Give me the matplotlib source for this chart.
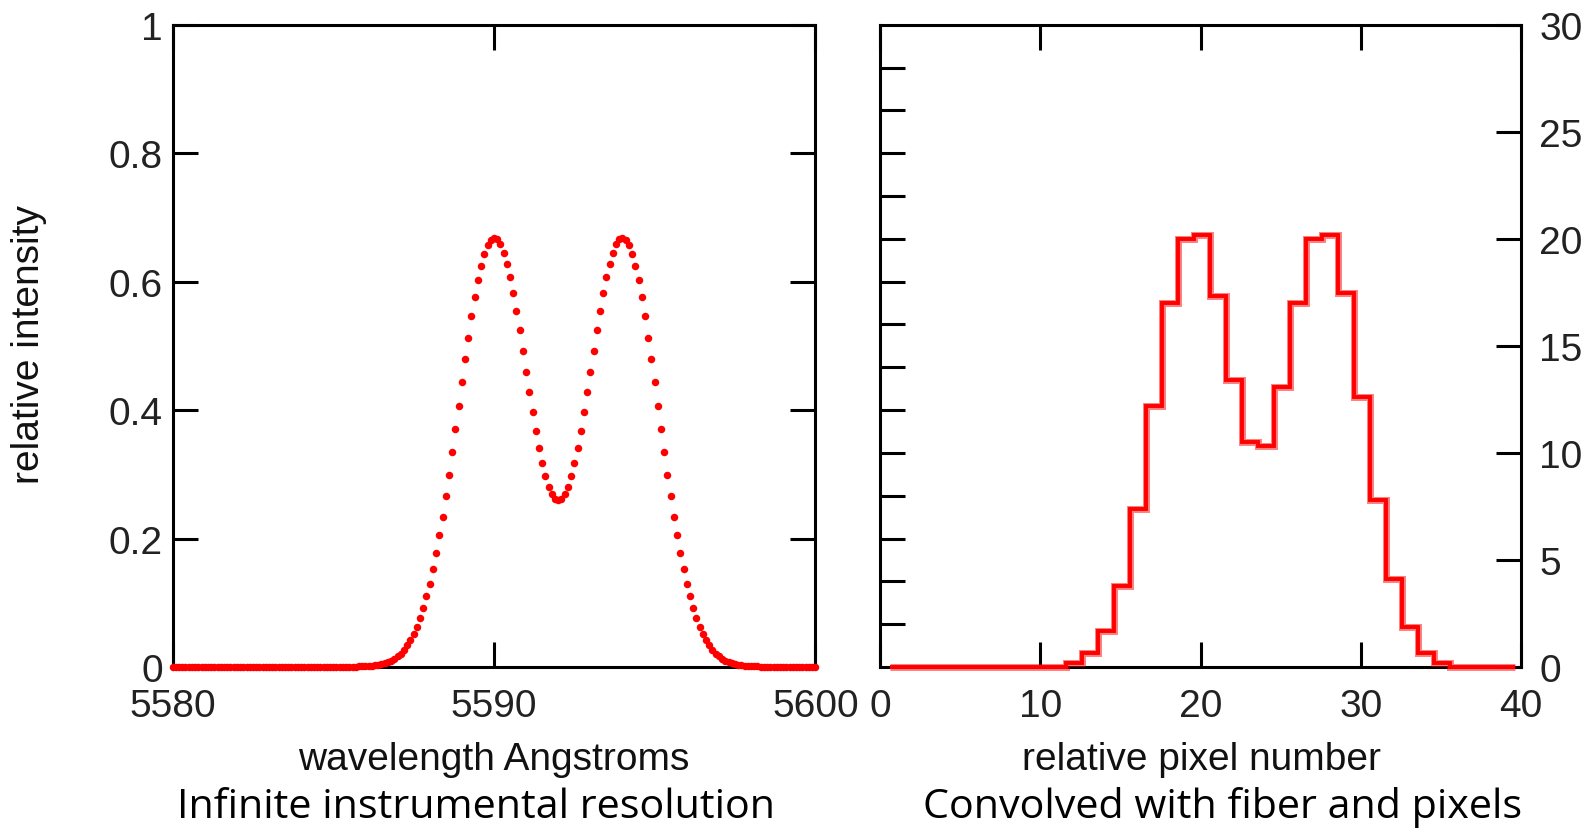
import numpy as np
import matplotlib
matplotlib.use("Agg")
import matplotlib.pyplot as plt
from matplotlib.ticker import FixedLocator, FuncFormatter

# left panel: doublet at infinite resolution, sampled every 0.1 A from 5580 A
wave_start = 5580.0
wave_step = 0.1
intensity = [
    0, 0, 0, 0, 0, 0, 0, 0, 0, 0,
    0, 0, 0, 0, 0, 0, 0, 0, 0, 0,
    0, 0, 0, 0, 0, 0, 0, 0, 0, 0,
    0, 0, 0, 0, 0, 0, 0, 0, 0, 0,
    0, 0, 0, 0, 0, 0, 0, 0, 0, 0,
    0, 0, 0, 0, 0, 0, 0, 0, 0.001, 0.001,
    0.001, 0.001, 0.002, 0.003, 0.003, 0.005, 0.006, 0.008, 0.010, 0.013,
    0.017, 0.021, 0.027, 0.034, 0.042, 0.052, 0.063, 0.077, 0.092, 0.110,
    0.130, 0.153, 0.177, 0.205, 0.234, 0.266, 0.299, 0.334, 0.370, 0.407,
    0.443, 0.479, 0.513, 0.546, 0.576, 0.602, 0.625, 0.643, 0.657, 0.665,
    0.668, 0.666, 0.658, 0.645, 0.628, 0.607, 0.582, 0.554, 0.524, 0.492,
    0.460, 0.428, 0.397, 0.368, 0.341, 0.318, 0.298, 0.281, 0.270, 0.262,
    0.260, 0.262, 0.270, 0.281, 0.298, 0.318, 0.341, 0.368, 0.397, 0.428,
    0.460, 0.492, 0.524, 0.554, 0.582, 0.607, 0.628, 0.645, 0.658, 0.666,
    0.668, 0.665, 0.657, 0.643, 0.625, 0.602, 0.576, 0.546, 0.513, 0.479,
    0.443, 0.407, 0.370, 0.334, 0.299, 0.266, 0.234, 0.205, 0.177, 0.153,
    0.130, 0.110, 0.092, 0.077, 0.063, 0.052, 0.042, 0.034, 0.027, 0.021,
    0.017, 0.013, 0.010, 0.008, 0.006, 0.005, 0.003, 0.003, 0.002, 0.001,
    0.001, 0.001, 0.001, 0, 0, 0, 0, 0, 0, 0,
    0, 0, 0, 0, 0, 0, 0, 0, 0, 0,
    0,
]

# right panel: counts per detector pixel (bins one pixel wide)
pixel_first_edge = 0.6
pixel_counts = [
    0, 0, 0, 0, 0, 0, 0, 0, 0, 0, 0,
    0.2, 0.66, 1.67, 3.8, 7.4, 12.2, 17.0, 20.0, 20.2, 17.35,
    13.4, 10.5, 10.3, 13.1, 17.0, 20.0, 20.2, 17.45, 12.6, 7.8,
    4.1, 1.86, 0.66, 0.2,
    0, 0, 0, 0,
]

wave_ticks = [5580, 5590, 5600]
intensity_ticks = [0, 0.2, 0.4, 0.6, 0.8, 1]
pixel_ticks = [0, 10, 20, 30, 40]
count_ticks = [0, 5, 10, 15, 20, 25, 30]
count_minor_ticks = [2, 4, 6, 8, 10, 12, 14, 16, 18, 20, 22, 24, 26, 28]

wavelength = wave_start + wave_step * np.arange(len(intensity))
pixel_edges = pixel_first_edge + np.arange(len(pixel_counts) + 1)

plt.rcParams['font.family'] = ['Liberation Sans', 'DejaVu Sans']

W, H = 1592, 829
fig = plt.figure(figsize=(W / 100, H / 100), dpi=100)


def box(x0, x1, y0, y1):
    return [x0 / W, 1 - y1 / H, (x1 - x0) / W, (y1 - y0) / H]


ax1 = fig.add_axes(box(172.6, 815.3, 25.7, 668))
ax2 = fig.add_axes(box(880, 1521, 25.7, 668))

fmt = FuncFormatter(lambda v, p: f'{v:g}')
tick_kw = dict(direction='in', length=18, width=2.2, labelsize=28,
               color='black', labelcolor='#222222')

for ax in (ax1, ax2):
    for s in ax.spines.values():
        s.set_linewidth(2.2)

# left: dots
ax1.plot(wavelength, intensity, 'o', color='red', ms=5.4, mec='none',
         clip_on=False, zorder=3)
ax1.set_xlim(5580, 5600)
ax1.set_ylim(0, 1)
ax1.xaxis.set_major_locator(FixedLocator(wave_ticks))
ax1.yaxis.set_major_locator(FixedLocator(intensity_ticks))
ax1.xaxis.set_major_formatter(fmt)
ax1.yaxis.set_major_formatter(fmt)
ax1.tick_params(axis='both', top=True, right=True, **tick_kw)
ax1.tick_params(axis='x', pad=15)
ax1.tick_params(axis='y', pad=7)

# right: stepped profile
ax2.stairs(pixel_counts, pixel_edges, baseline=None, color='red', lw=5,
           alpha=0.5, zorder=3, clip_on=False)
ax2.stairs(pixel_counts, pixel_edges, baseline=None, color='red', lw=2.8,
           zorder=3.1, clip_on=False)
ax2.set_xlim(0, 40)
ax2.set_ylim(0, 30)
ax2.xaxis.set_major_locator(FixedLocator(pixel_ticks))
ax2.yaxis.set_major_locator(FixedLocator(count_ticks))
ax2.yaxis.set_minor_locator(FixedLocator(count_minor_ticks))
ax2.yaxis.remove_overlapping_locs = False
ax2.xaxis.set_major_formatter(fmt)
ax2.yaxis.set_major_formatter(fmt)
ax2.tick_params(axis='x', top=True, pad=15, **tick_kw)
ax2.tick_params(axis='y', which='major', left=False, right=True,
                labelleft=False, labelright=True, pad=13, **tick_kw)
ax2.tick_params(axis='y', which='minor', left=True, right=False,
                direction='in', length=18, width=2.2)

# axis labels
fig.text(494 / W, 1 - 770 / H, 'wavelength Angstroms', ha='center',
         va='baseline', fontsize=28, color='#111111')
fig.text(1201 / W, 1 - 770 / H, 'relative pixel number', ha='center',
         va='baseline', fontsize=28, color='#111111')
fig.text(29 / W, 1 - 345 / H, 'relative intensity', ha='center',
         va='center', rotation=90, fontsize=28, color='#111111')

# captions
fig.text(476 / W, 1 - 818 / H, 'Infinite instrumental resolution',
         ha='center', va='baseline', fontsize=29.7, family='Open Sans')
fig.text(1223 / W, 1 - 818 / H, 'Convolved with fiber and pixels',
         ha='center', va='baseline', fontsize=29.7, family='Open Sans')

fig.savefig('out.png', dpi=100)
